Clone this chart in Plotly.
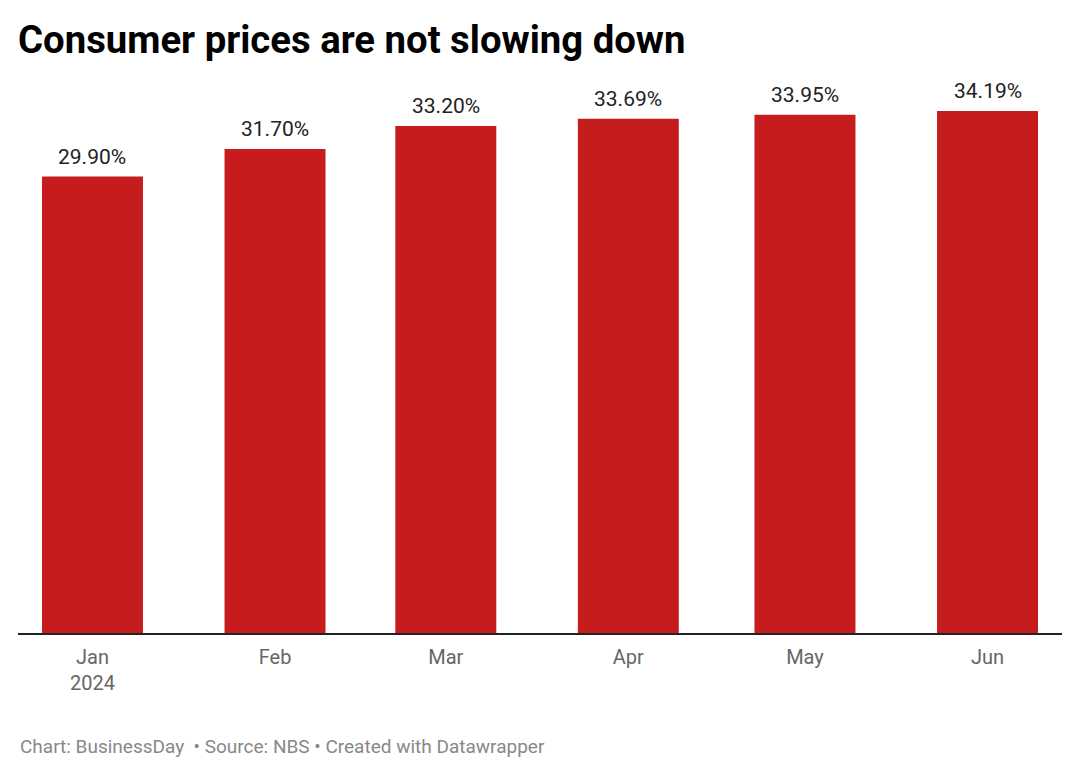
import plotly.graph_objects as go
import pandas as pd

months = ["2024-01-01", "2024-02-01", "2024-03-01", "2024-04-01", "2024-05-01", "2024-06-01"]
tick_labels = ["Jan<br>2024", "Feb", "Mar", "Apr", "May", "Jun"]
inflation = [29.90, 31.70, 33.20, 33.69, 33.95, 34.19]
value_labels = [f"{v:.2f}%" for v in inflation]

# page body has an 8px margin; figure is shifted accordingly
OFF = 8
W, H = 1080 - 2 * OFF, 775 - 2 * OFF
ml, mr = 18 - OFF, 18 - OFF
mt = 80 - OFF
mb = H - (633 - OFF)
plot_h = H - mt - mb
ymax = plot_h / (522 / 34.19)

x0 = pd.Timestamp("2024-01-01") - pd.Timedelta(days=12.65)
x1 = pd.Timestamp("2024-06-01") + pd.Timedelta(days=12.65)
bar_width_ms = 17.15 * 86400000

fig = go.Figure()
fig.add_trace(go.Bar(
    x=months,
    y=inflation,
    width=[bar_width_ms] * len(months),
    marker=dict(color="#c71c1e", line=dict(width=0)),
    hoverinfo="skip",
))

annotations = [
    dict(
        x=m, y=v, xref="x", yref="y",
        text=t, showarrow=False,
        xanchor="center", yanchor="middle", yshift=20,
        font=dict(family="Roboto", size=21, color="#222222"),
    )
    for m, v, t in zip(months, inflation, value_labels)
]
annotations.append(dict(
    text="Chart: BusinessDay  • Source: NBS • Created with Datawrapper",
    xref="paper", yref="paper",
    x=0, y=-(746 - 633) / (633 - 80),
    xanchor="left", yanchor="middle",
    showarrow=False,
    font=dict(family="Roboto", size=19, color="#888888"),
))

fig.update_layout(
    width=W, height=H,
    margin=dict(l=ml, r=mr, t=mt, b=mb),
    paper_bgcolor="white",
    plot_bgcolor="white",
    showlegend=False,
    font=dict(family="Roboto"),
    title=dict(
        text="<b>Consumer prices are not slowing down</b>",
        xref="container", yref="container",
        x=(18 - OFF) / W, y=1 - (40 - OFF) / H,
        xanchor="left", yanchor="middle",
        font=dict(family="Roboto", size=38.3, color="#000000"),
    ),
    xaxis=dict(
        type="date",
        range=[x0, x1],
        tickvals=months,
        ticktext=tick_labels,
        ticks="outside", ticklen=5, tickcolor="rgba(0,0,0,0)",
        tickfont=dict(family="Roboto", size=20, color="#666666"),
        showgrid=False, zeroline=False,
        showline=True, linecolor="#222222", linewidth=2,
    ),
    yaxis=dict(
        range=[0, ymax],
        showticklabels=False, showgrid=False, zeroline=False, showline=False,
    ),
    annotations=annotations,
)

fig.write_html("out.html")
